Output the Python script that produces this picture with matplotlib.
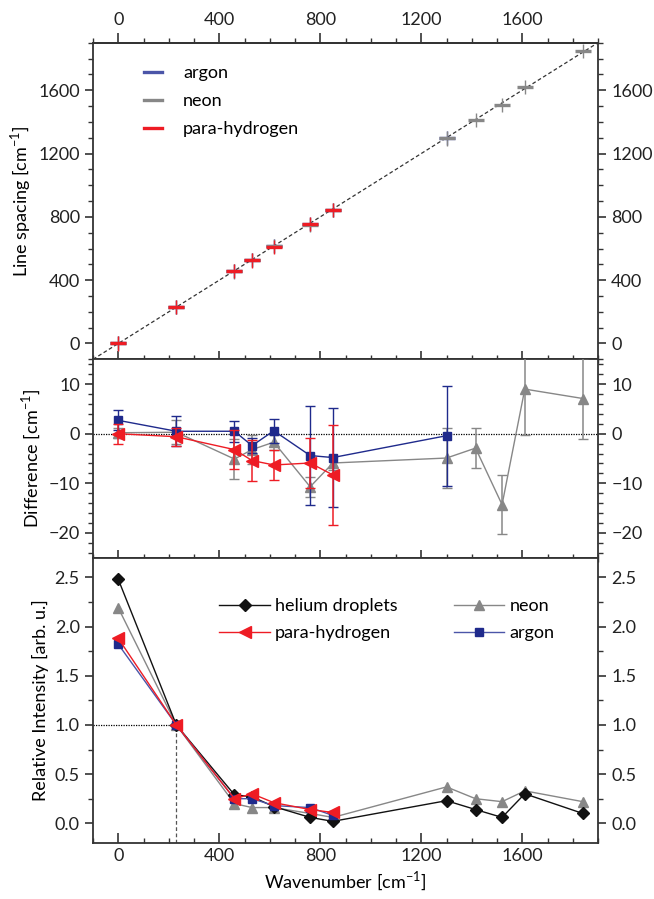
import numpy as np
import matplotlib
matplotlib.use("Agg")
import matplotlib.pyplot as plt
from matplotlib.ticker import MultipleLocator
from matplotlib.lines import Line2D

plt.rcParams['font.family'] = ['Lato', 'DejaVu Sans']
plt.rcParams['mathtext.fontset'] = 'custom'
plt.rcParams['mathtext.rm'] = 'Lato'
plt.rcParams['font.size'] = 13

# wavenumbers [cm-1]
wn_ar = [0, 230, 460, 530, 616, 760, 850, 1300]
wn_ne = [0, 230, 460, 530, 616, 760, 850, 1300, 1415, 1520, 1610, 1840]
wn_ph = [0, 230, 460, 530, 616, 760, 850]
wn_he = [0, 230, 460, 530, 616, 760, 850, 1300, 1415, 1520, 1610, 1840]
wn_ar_int = [0, 230, 460, 530, 616, 760, 850]

# line spacing [cm-1]
sp_ar = [3, 230, 460, 528, 617, 756, 845, 1300]
sp_ne = [0, 230, 455, 527, 614, 749, 844, 1295, 1412, 1506, 1619, 1847]
sp_ph = [0, 229, 457, 525, 610, 754, 842]

# difference [cm-1] and errors
diff_ar = [2.7, 0.5, 0.5, -2.4, 0.6, -4.4, -4.8, -0.4]
err_ar = [2.0, 3.0, 2.1, 1.5, 2.4, 10.0, 10.0, 10.1]
diff_ne = [0.2, 0.3, -5.1, -3.2, -1.7, -10.7, -5.9, -4.9, -2.9, -14.3, 9.0, 7.1]
err_ne = [1.0, 2.4, 4.0, 3.0, 1.5, 2.0, 1.5, 6.0, 4.0, 6.0, 9.2, 8.2]
diff_ph = [0.0, -0.6, -3.2, -5.4, -6.3, -5.9, -8.3]
err_ph = [2.0, 1.8, 4.0, 4.1, 3.0, 5.0, 10.0]

# relative intensity
int_he = [2.48, 1.0, 0.29, 0.27, 0.17, 0.06, 0.02, 0.23, 0.14, 0.06, 0.30, 0.10]
int_ne = [2.19, 1.0, 0.20, 0.16, 0.16, 0.10, 0.06, 0.37, 0.25, 0.22, 0.33, 0.22]
int_ph = [1.88, 1.0, 0.25, 0.30, 0.21, 0.14, 0.11]
int_ar = [1.82, 1.0, 0.25, 0.25, 0.18, 0.16, 0.08]

c_ar = '#1f2a8c'
c_arl = '#4b55a8'
c_ne = '#878787'
c_ph = '#ee1c24'
c_he = '#111111'
c_ax = '#333333'

fig = plt.figure(figsize=(6.54, 8.99), dpi=100)
L, W = 0.1422, 0.7722
ax1 = fig.add_axes([L, 0.6003, W, 0.3522])
ax2 = fig.add_axes([L, 0.3796, W, 0.2207], sharex=ax1)
ax3 = fig.add_axes([L, 0.0623, W, 0.3174], sharex=ax1)

for ax in (ax1, ax2, ax3):
    for s in ax.spines.values():
        s.set_linewidth(1.3)
        s.set_color(c_ax)
    ax.tick_params(axis='y', which='both', direction='out', left=True, right=True,
                   labelleft=True, labelright=True, colors=c_ax, labelcolor='#222222')
    ax.tick_params(axis='y', which='major', length=6, width=1.2)
    ax.tick_params(axis='y', which='minor', length=3.5, width=1.0)
    ax.tick_params(axis='x', which='both', top=False, bottom=True, labelbottom=False,
                   direction='inout', colors=c_ax, labelcolor='#222222')
    ax.tick_params(axis='x', which='major', length=12, width=1.2)
    ax.tick_params(axis='x', which='minor', length=6, width=1.0)

ax3.tick_params(axis='x', which='both', direction='in', labelbottom=True)
ax3.tick_params(axis='x', which='major', length=7)
ax3.tick_params(axis='x', which='minor', length=3.5)

ax1.set_xlim(-100, 1900)
ax1.xaxis.set_major_locator(MultipleLocator(400))
ax1.xaxis.set_minor_locator(MultipleLocator(100))

top = ax1.secondary_xaxis('top')
top.xaxis.set_major_locator(MultipleLocator(400))
top.xaxis.set_minor_locator(MultipleLocator(100))
top.tick_params(which='both', direction='out', colors=c_ax, labelcolor='#222222')
top.tick_params(which='major', length=7, width=1.2)
top.tick_params(which='minor', length=3.5, width=1.0)
top.spines['top'].set_linewidth(1.3)
top.spines['top'].set_color(c_ax)

# top panel: line spacing
ax1.plot([-100, 1900], [-100, 1900], ls=(0, (3, 2)), color='#333333', lw=0.9, zorder=1)
handles = []
for wn, sp, c, lab in [(wn_ar, sp_ar, c_arl, 'argon'), (wn_ne, sp_ne, c_ne, 'neon'),
                       (wn_ph, sp_ph, c_ph, 'para-hydrogen')]:
    ax1.errorbar(wn, sp, yerr=45, fmt='_', ms=12, mew=2.4, color=c, ecolor=c,
                 elinewidth=1.0, capsize=0, zorder=3)
    handles.append(Line2D([], [], color=c, lw=2.4, label=lab))
ax1.set_ylim(-100, 1900)
ax1.yaxis.set_major_locator(MultipleLocator(400))
ax1.yaxis.set_minor_locator(MultipleLocator(100))
ax1.set_ylabel('Line spacing [cm$^{-1}$]')
ax1.legend(handles=handles, loc='upper left', bbox_to_anchor=(0.1, 0.93), frameon=False,
           handlelength=1.0, handletextpad=1.2, labelspacing=0.68, borderpad=0,
           borderaxespad=0, fontsize=13)

# middle panel: difference
ax2.axhline(0, color='black', lw=0.9, ls=(0, (1, 1)), zorder=1)
ax2.errorbar(wn_ne, diff_ne, yerr=err_ne, fmt='-^', color=c_ne, mfc=c_ne, mec=c_ne,
             ms=7, lw=1.0, elinewidth=1.1, capsize=3.5, zorder=3)
ax2.errorbar(wn_ar, diff_ar, yerr=err_ar, fmt='-s', color=c_ar, mfc=c_ar, mec=c_ar,
             ms=6, lw=1.0, elinewidth=1.0, capsize=3.5, zorder=4)
ax2.errorbar(wn_ph, diff_ph, yerr=err_ph, fmt='-<', color=c_ph, mfc=c_ph, mec=c_ph,
             ms=8, lw=1.0, elinewidth=1.1, capsize=3.5, zorder=5)
ax2.set_ylim(-25, 15)
ax2.yaxis.set_major_locator(MultipleLocator(10))
ax2.yaxis.set_minor_locator(MultipleLocator(2))
ax2.set_ylabel('Difference [cm$^{-1}$]')

# bottom panel: relative intensity
ax3.plot([-100, 230], [1.0, 1.0], color='black', lw=0.9, ls=(0, (1, 1)), zorder=1)
ax3.plot([230, 230], [-0.2, 1.0], color='#555555', lw=0.9, ls=(0, (3, 2)), zorder=1)
ax3.plot(wn_he, int_he, '-D', color=c_he, ms=6.5, lw=1.0, label='helium droplets', zorder=3)
ax3.plot(wn_ph, int_ph, '-<', color=c_ph, ms=8, lw=1.0, label='para-hydrogen', zorder=5)
ax3.plot(wn_ne, int_ne, '-^', color=c_ne, ms=7, lw=1.0, label='neon', zorder=2)
ax3.plot(wn_ar_int, int_ar, '-s', color=c_arl, mfc=c_ar, mec=c_ar, ms=6, lw=1.0,
         label='argon', zorder=4)
ax3.set_ylim(-0.2, 2.7)
ax3.yaxis.set_major_locator(MultipleLocator(0.5))
ax3.yaxis.set_minor_locator(MultipleLocator(0.25))
ax3.yaxis.set_major_formatter(matplotlib.ticker.FormatStrFormatter('%.1f'))
ax3.set_ylabel('Relative Intensity [arb. u.]')
ax3.set_xlabel('Wavenumber [cm$^{-1}$]')
h, l = ax3.get_legend_handles_labels()
ax3.legend(h, l, ncol=2, loc='upper left', bbox_to_anchor=(0.25, 0.858), frameon=False,
           handlelength=2.8, handletextpad=0.3, columnspacing=3.1, labelspacing=0.62,
           borderpad=0, borderaxespad=0, fontsize=13)

fig.savefig('out.png', dpi=100)
